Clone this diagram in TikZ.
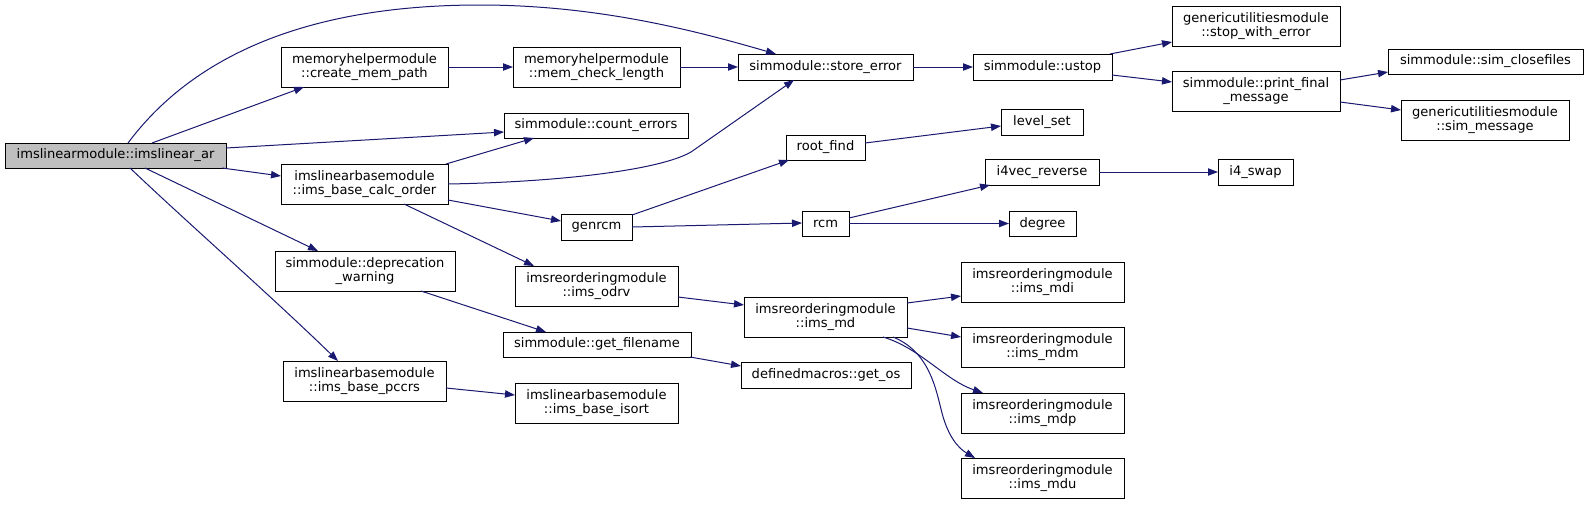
\documentclass[tikz,border=0pt]{standalone}
\usepackage{fontspec}
\setmainfont{DejaVu Sans}
\usetikzlibrary{arrows.meta,calc}
\definecolor{edgeblue}{HTML}{191970}
\definecolor{rootfill}{HTML}{BFBFBF}
\tikzset{
  box/.style={draw=black, line width=0.75pt, fill=white, inner sep=0pt, outer sep=0pt,
    align=center, font=\fontsize{9.8}{10.7}\selectfont},
  rootbox/.style={box, fill=rootfill},
  call/.style={draw=edgeblue, line width=0.75pt, -{Triangle[length=7.5pt,width=5.5pt]}},
}
\newcommand\mybox[7]{\node[#1, minimum width={(#5-#3)*0.75pt}, minimum height={(#6-#4)*0.75pt}] (#2) at ({(#3+#5)/2},{(#4+#6)/2}) {#7};}
\begin{document}
\begin{tikzpicture}[x=0.75pt,y=-0.75pt]
\fill[white] (0,0) rectangle (1588,504);
\useasboundingbox (0,0) rectangle (1588,504);
% nodes
\mybox{rootbox}{A}{5}{143}{226}{168}{imslinearmodule::imslinear\_ar}
\mybox{box}{B}{281}{47}{448}{87}{memoryhelpermodule\\::create\_mem\_path}
\mybox{box}{C}{281}{164}{448}{204}{imslinearbasemodule\\::ims\_base\_calc\_order}
\mybox{box}{D}{275}{251}{455}{291}{simmodule::deprecation\\\_warning}
\mybox{box}{E}{283}{361}{446}{401}{imslinearbasemodule\\::ims\_base\_pccrs}
\mybox{box}{F}{513}{47}{680}{87}{memoryhelpermodule\\::mem\_check\_length}
\mybox{box}{G}{504}{113}{688}{138}{simmodule::count\_errors}
\mybox{box}{H}{561}{214}{632}{240}{genrcm}
\mybox{box}{I}{515}{266}{678}{306}{imsreorderingmodule\\::ims\_odrv}
\mybox{box}{J}{503}{332}{691}{357}{simmodule::get\_filename}
\mybox{box}{K}{515}{383}{678}{423}{imslinearbasemodule\\::ims\_base\_isort}
\mybox{box}{L}{738}{54}{913}{80}{simmodule::store\_error}
\mybox{box}{M}{786}{135}{865}{160}{root\_find}
\mybox{box}{N}{802}{211}{849}{236}{rcm}
\mybox{box}{O}{744}{297}{907}{337}{imsreorderingmodule\\::ims\_md}
\mybox{box}{P}{741}{362}{911}{388}{definedmacros::get\_os}
\mybox{box}{Q}{973}{54}{1112}{80}{simmodule::ustop}
\mybox{box}{R}{1001}{109}{1083}{135}{level\_set}
\mybox{box}{S}{985}{159}{1099}{185}{i4vec\_reverse}
\mybox{box}{T}{1009}{211}{1076}{236}{degree}
\mybox{box}{U}{961}{262}{1124}{302}{imsreorderingmodule\\::ims\_mdi}
\mybox{box}{V}{961}{327}{1124}{367}{imsreorderingmodule\\::ims\_mdm}
\mybox{box}{W}{961}{393}{1124}{433}{imsreorderingmodule\\::ims\_mdp}
\mybox{box}{X}{961}{458}{1124}{498}{imsreorderingmodule\\::ims\_mdu}
\mybox{box}{Y}{1172}{6}{1340}{46}{genericutilitiesmodule\\::stop\_with\_error}
\mybox{box}{Z}{1172}{71}{1340}{111}{simmodule::print\_final\\\_message}
\mybox{box}{AA}{1218}{159}{1293}{185}{i4\_swap}
\mybox{box}{AB}{1388}{49}{1583}{74}{simmodule::sim\_closefiles}
\mybox{box}{AC}{1401}{100}{1569}{140}{genericutilitiesmodule\\::sim\_message}
% edges
\draw[call] ($(A.north west)+(123,0)$) .. controls (190,60) and (300,5) .. (480,5)
  .. controls (600,5) and (700,32) .. ($(L.north west)+(38,0)$);
\draw[call] ($(A.north west)+(147,0)$) -- ($(B.south west)+(23,0)$);
\draw[call] ($(A.north east)+(0,5)$) -- ($(G.north west)+(0,19)$);
\draw[call] ($(A.south east)+(-4,0)$) -- ($(C.north west)+(0,12)$);
\draw[call] ($(A.south west)+(140,0)$) -- ($(D.north west)+(43,0)$);
\draw[call] ($(A.south west)+(125,0)$) .. controls (190,225) and (270,295) .. ($(E.north west)+(55,0)$);
\draw[call] (B.east) -- (F.west);
\draw[call] (F.east) -- (L.west);
\draw[call] ($(C.north east)+(-2,0)$) -- ($(G.south west)+(30,0)$);
\draw[call] (C.east) .. controls (560,182) and (660,170) .. (691,152) -- ($(L.south west)+(56,0)$);
\draw[call] ($(C.south east)+(0,-4)$) -- ($(H.north west)+(0,7)$);
\draw[call] ($(C.south west)+(123,0)$) -- ($(I.north west)+(19,0)$);
\draw[call] ($(D.south west)+(146,0)$) -- ($(J.north west)+(43,0)$);
\draw[call] ($(E.north east)+(0,27)$) -- ($(K.north west)+(0,12)$);
\draw[call] ($(H.north east)+(0,1)$) -- ($(M.south west)+(3,0)$);
\draw[call] (H.east) -- ($(N.north west)+(0,12)$);
\draw[call] ($(M.north east)+(0,8)$) -- ($(R.north west)+(0,17)$);
\draw[call] ($(N.north east)+(0,7)$) -- ($(S.south west)+(5,0)$);
\draw[call] (N.east) -- (T.west);
\draw[call] ($(I.north east)+(0,31)$) -- ($(O.north west)+(0,8)$);
\draw[call] ($(J.south east)+(-1,0)$) -- ($(P.north west)+(0,4)$);
\draw[call] (L.east) -- (Q.west);
\draw[call] ($(Q.north east)+(-2,0)$) -- ($(Y.south west)+(0,-4)$);
\draw[call] ($(Q.north east)+(0,21)$) -- ($(Z.north west)+(0,11)$);
\draw[call] ($(Z.north east)+(0,9)$) -- ($(AB.south west)+(0,-2)$);
\draw[call] ($(Z.north east)+(0,31)$) -- ($(AC.north west)+(0,10)$);
\draw[call] (S.east) -- (AA.west);
\draw[call] ($(O.north east)+(0,6)$) -- ($(U.south west)+(0,-6)$);
\draw[call] ($(O.north east)+(0,31)$) -- ($(V.north west)+(0,10)$);
\draw[call] ($(O.south west)+(139,0)$) .. controls (920,348) and (945,380) .. ($(W.north west)+(22,0)$);
\draw[call] ($(O.south west)+(149,0)$) .. controls (930,352) and (936,390) .. (942,413)
  .. controls (948,436) and (958,448) .. ($(X.north west)+(14,0)$);
\end{tikzpicture}
\end{document}
